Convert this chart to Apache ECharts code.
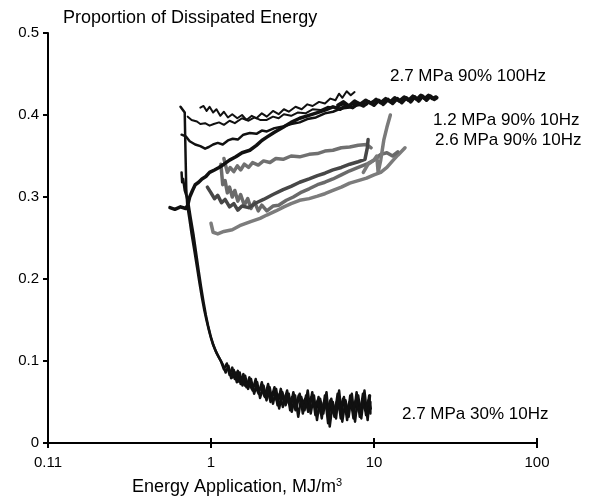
<!DOCTYPE html>
<html>
<head>
<meta charset="utf-8">
<script src="https://cdn.jsdelivr.net/npm/echarts@6/dist/echarts.min.js"></script>
<style>
  html, body { margin: 0; padding: 0; background: #fff; }
  #chart { width: 594px; height: 500px; }
</style>
</head>
<body>
<div id="chart"></div>
<script>
// axis ticks
const xTicks = [0.1, 1, 10, 100]
const xTickText = ['0.11', '1', '10', '100']

// 2.7 MPa 30% 10Hz - two traces dropping then noisy tail
const fall30a = [[0.65,0.41],[0.69,0.403],[0.695,0.37],[0.70,0.34],[0.705,0.31],[0.715,0.29],[0.735,0.275],[0.76,0.255],[0.79,0.235],[0.82,0.215],[0.85,0.195],[0.88,0.177],[0.91,0.162],[0.94,0.149],[0.97,0.138],[1.0,0.128],[1.04,0.118],[1.08,0.11],
  [1.15,0.100],[1.2,0.090],[1.25,0.097],[1.3,0.083],[1.35,0.092],[1.4,0.078],[1.46,0.088],[1.52,0.072],[1.58,0.084],[1.65,0.068],[1.72,0.080],[1.8,0.064],[1.88,0.078],[1.96,0.060],[2.05,0.074],[2.14,0.056],[2.24,0.072],[2.34,0.054],[2.45,0.068],[2.56,0.046],[2.68,0.066],[2.8,0.050],[2.93,0.064],[3.06,0.040],[3.2,0.062],[3.35,0.044],[3.5,0.060],[3.66,0.036],[3.83,0.058],[4.0,0.040],[4.18,0.062],[4.37,0.034],[4.57,0.056],[4.78,0.030],[5.0,0.058],[5.23,0.024],[5.47,0.054],[5.72,0.032],[5.98,0.060],[6.25,0.030],[6.54,0.056],[6.84,0.028],[7.15,0.058],[7.48,0.030],[7.82,0.062],[8.18,0.032],[8.55,0.060],[8.94,0.034],[9.35,0.058],[9.5,0.036],[9.5,0.05]]
const fall30b = [[0.66,0.33],[0.665,0.318],[0.675,0.322],[0.69,0.308],[0.71,0.30],[0.73,0.29],[0.75,0.275],[0.78,0.255],[0.81,0.232],[0.84,0.21],[0.87,0.19],[0.9,0.172],[0.93,0.156],[0.96,0.143],[0.99,0.132],[1.03,0.12],[1.07,0.112],[1.12,0.104],
  [1.18,0.096],[1.23,0.086],[1.28,0.094],[1.33,0.079],[1.38,0.089],[1.44,0.074],[1.5,0.086],[1.56,0.07],[1.62,0.082],[1.69,0.066],[1.76,0.078],[1.84,0.06],[1.92,0.074],[2.0,0.055],[2.1,0.07],[2.19,0.052],[2.29,0.068],[2.4,0.048],[2.51,0.066],[2.62,0.042],[2.74,0.062],[2.87,0.046],[3.0,0.06],[3.13,0.038],[3.28,0.058],[3.43,0.032],[3.58,0.056],[3.75,0.04],[3.92,0.064],[4.09,0.036],[4.28,0.058],[4.47,0.028],[4.67,0.054],[4.89,0.036],[5.11,0.062],[5.35,0.02],[5.59,0.05],[5.85,0.03],[6.11,0.064],[6.39,0.026],[6.69,0.052],[6.99,0.032],[7.31,0.06],[7.65,0.026],[8.0,0.058],[8.36,0.03],[8.74,0.064],[9.14,0.028],[9.45,0.058]]
const fall30c = [[1.3,0.088],[1.36,0.08],[1.42,0.086],[1.48,0.075],[1.55,0.08],[1.62,0.07],[1.7,0.075],[1.78,0.066],[1.86,0.072],[1.94,0.062],[2.03,0.068],[2.12,0.058],[2.22,0.066],[2.32,0.05],[2.42,0.062],[2.53,0.052],[2.64,0.06],[2.76,0.044],[2.88,0.058],[3.01,0.048],[3.14,0.056],[3.3,0.04],[3.45,0.058],[3.6,0.046],[3.78,0.054],[3.95,0.038],[4.13,0.056],[4.32,0.044],[4.52,0.052],[4.72,0.036],[4.94,0.05],[5.17,0.04],[5.4,0.052],[5.65,0.036],[5.9,0.05],[6.18,0.04],[6.46,0.054],[6.76,0.036],[7.07,0.05],[7.4,0.04],[7.73,0.052],[8.08,0.038],[8.45,0.05],[8.84,0.04],[9.25,0.052],[9.55,0.042]]

// 2.7 MPa 90% 100Hz - black traces
const hz100a = [[0.86,0.409],[0.9,0.411],[0.94,0.405],[0.98,0.41],[1.03,0.403],[1.08,0.407],[1.14,0.399],[1.2,0.404],[1.27,0.397],[1.35,0.401],[1.45,0.396],[1.55,0.4],[1.65,0.394],[1.78,0.399],[1.9,0.396],[2.05,0.402],[2.2,0.398],[2.4,0.405],[2.6,0.401],[2.8,0.407],[3.0,0.404],[3.3,0.41],[3.6,0.407],[3.9,0.413],[4.2,0.411],[4.6,0.416],[5.0,0.414],[5.4,0.42],[5.8,0.418],[6.1,0.426],[6.4,0.421],[6.8,0.429],[7.2,0.424],[7.6,0.428]]
const hz100b = [[0.72,0.398],[0.76,0.394],[0.82,0.392],[0.86,0.389],[0.92,0.39],[0.98,0.387],[1.04,0.389],[1.12,0.391],[1.2,0.388],[1.3,0.393],[1.4,0.39],[1.55,0.396],[1.7,0.393],[1.85,0.397],[2.0,0.394],[2.2,0.394],[2.4,0.398],[2.6,0.396],[2.8,0.401],[3.1,0.399],[3.4,0.403],[3.8,0.402],[4.2,0.407],[4.7,0.406],[5.2,0.41],[5.8,0.409],[6.5,0.413],[7.2,0.412],[8,0.415],[9,0.414],[10,0.417]]
const hz100c = [[0.66,0.376],[0.7,0.374],[0.74,0.368],[0.8,0.364],[0.86,0.362],[0.92,0.359],[0.97,0.361],[1.03,0.364],[1.1,0.366],[1.18,0.364],[1.27,0.369],[1.36,0.371],[1.46,0.37],[1.58,0.376],[1.73,0.378],[1.9,0.377],[2.05,0.381],[2.2,0.38],[2.45,0.384],[2.77,0.386],[3.1,0.389],[3.5,0.391],[3.9,0.395],[4.4,0.397],[5.0,0.402],[5.6,0.404],[6.3,0.408],[7.1,0.409],[8,0.412],[9,0.413]]
const hz100d = [[0.56,0.287],[0.6,0.285],[0.65,0.288],[0.7,0.286],[0.72,0.29],[0.74,0.3],[0.77,0.308],[0.8,0.315],[0.84,0.318],[0.88,0.322],[0.93,0.325],[0.98,0.33],[1.05,0.333],[1.12,0.336],[1.2,0.34],[1.3,0.345],[1.42,0.349],[1.55,0.354],[1.73,0.357],[1.9,0.363],[2.05,0.369],[2.2,0.373],[2.45,0.379],[2.77,0.385],[3.1,0.391],[3.5,0.396],[3.9,0.399],[4.5,0.403],[5,0.406],[5.6,0.41],[6.2,0.407],[6.8,0.412],[7.4,0.409],[8,0.414],[8.6,0.411],[9.3,0.416],[10,0.412],[10.7,0.418],[11.4,0.413],[12.2,0.419],[13,0.414],[13.9,0.42],[14.8,0.415],[15.8,0.421],[16.8,0.416],[17.8,0.422],[18.8,0.417],[19.9,0.423],[21,0.418],[22.2,0.423],[23.4,0.419],[24.3,0.421]]
const hz100e = [[6.0,0.412],[6.5,0.416],[7.0,0.411],[7.6,0.417],[8.2,0.413],[8.9,0.418],[9.6,0.414],[10.3,0.419],[11.0,0.415],[11.8,0.42],[12.6,0.416],[13.4,0.421],[14.3,0.417],[15.3,0.422],[16.3,0.418],[17.3,0.423],[18.3,0.419],[19.4,0.424],[20.5,0.42],[21.6,0.424],[22.8,0.42],[24.0,0.422]]

// 1.2 MPa / 2.6 MPa 90% 10Hz - grey traces
const hz10a = [[1.2,0.347],[1.26,0.33],[1.31,0.336],[1.38,0.331],[1.45,0.338],[1.52,0.333],[1.6,0.34],[1.7,0.336],[1.8,0.342],[1.95,0.339],[2.1,0.344],[2.3,0.342],[2.5,0.347],[2.77,0.346],[3.1,0.35],[3.5,0.349],[4.0,0.352],[4.5,0.353],[5.0,0.356],[5.6,0.357],[6.3,0.36],[7.1,0.361],[8,0.363],[9,0.364],[9.6,0.36]]
const hz10b = [[8.6,0.33],[9.2,0.34],[10,0.345],[10.4,0.35],[10.6,0.33],[11,0.345],[11.5,0.37],[12,0.385],[12.6,0.40]]
const hz10c = [[1.0,0.268],[1.03,0.257],[1.1,0.255],[1.2,0.258],[1.35,0.26],[1.5,0.265],[1.75,0.27],[2.0,0.274],[2.2,0.278],[2.5,0.283],[2.8,0.288],[3.1,0.292],[3.5,0.296],[4.0,0.298],[4.5,0.301],[5.0,0.304],[5.6,0.308],[6.3,0.312],[7.1,0.317],[8,0.32],[9,0.323],[10,0.327],[11,0.33],[12,0.336],[13,0.344],[14,0.351],[15.5,0.36]]
const hz10d = [[0.95,0.312],[1.0,0.305],[1.05,0.298],[1.1,0.302],[1.16,0.293],[1.22,0.297],[1.3,0.288],[1.38,0.292],[1.46,0.284],[1.55,0.289],[1.7,0.287],[1.9,0.293],[2.1,0.297],[2.4,0.303],[2.77,0.309],[3.1,0.313],[3.5,0.318],[4,0.322],[4.5,0.326],[5,0.329],[5.6,0.333],[6.3,0.336],[7.1,0.34],[8,0.343],[8.8,0.346],[9.1,0.36],[9.2,0.37]]
const hz10e = [[1.15,0.34],[1.18,0.315],[1.22,0.32],[1.26,0.305],[1.3,0.312],[1.35,0.3],[1.4,0.308],[1.46,0.295],[1.52,0.303],[1.6,0.29],[1.68,0.298],[1.76,0.286],[1.85,0.294],[1.95,0.283],[2.05,0.29],[2.2,0.283],[2.4,0.289],[2.6,0.29],[2.9,0.296],[3.2,0.3],[3.6,0.306],[4.0,0.31],[4.5,0.315],[5,0.318],[5.6,0.322],[6.3,0.327],[7.1,0.332],[8,0.336],[9,0.34],[10,0.345],[11,0.352],[12,0.354],[13,0.35],[14,0.355]]

const chart = echarts.init(document.getElementById('chart'))

function trace(data, color, width) {
  return {
    type: 'line',
    data: data,
    showSymbol: false,
    animation: false,
    lineStyle: { color: color, width: width, join: 'round', cap: 'round' }
  }
}

const font = 'Liberation Sans, Arial, sans-serif'
const txt = { fontFamily: font, fontSize: 17, fill: '#000' }

const option = {
  backgroundColor: '#fff',
  animation: false,
  title: {
    text: 'Proportion of Dissipated Energy',
    left: 58,
    top: 4,
    textStyle: { fontFamily: font, fontSize: 18, fontWeight: 'normal', color: '#000' }
  },
  grid: { left: 48, right: 57, top: 33, bottom: 57 },
  xAxis: [{
    type: 'log',
    logBase: 10,
    min: 0.1,
    max: 100,
    axisLine: { lineStyle: { color: '#000', width: 2 } },
    axisTick: { show: true, length: 5, lineStyle: { color: '#000', width: 2 } },
    splitLine: { show: false },
    axisLabel: {
      color: '#000', fontSize: 15, margin: 12,
      fontFamily: font,
      formatter: v => {
        const i = xTicks.findIndex(t => Math.abs(Math.log10(t) - Math.log10(v)) < 1e-6)
        return i >= 0 ? xTickText[i] : ''
      }
    }
  }, {
    type: 'log',
    logBase: 10,
    min: 0.1,
    max: 100,
    position: 'bottom',
    axisLine: { show: false },
    axisTick: { show: true, inside: true, length: 5, lineStyle: { color: '#000', width: 2 } },
    axisLabel: { show: false },
    splitLine: { show: false }
  }],
  yAxis: {
    type: 'value',
    min: 0,
    max: 0.5,
    interval: 0.1,
    axisLine: { show: true, lineStyle: { color: '#000', width: 2 } },
    axisTick: { show: true, length: 5, lineStyle: { color: '#000', width: 2 } },
    splitLine: { show: false },
    axisLabel: { color: '#000', fontSize: 15, margin: 9, fontFamily: font }
  },
  graphic: [
    { type: 'text', left: 390, top: 68, style: Object.assign({ text: '2.7 MPa 90% 100Hz' }, txt) },
    { type: 'text', left: 433, top: 112, style: Object.assign({ text: '1.2 MPa 90% 10Hz' }, txt) },
    { type: 'text', left: 435, top: 132, style: Object.assign({ text: '2.6 MPa 90% 10Hz' }, txt) },
    { type: 'text', left: 402, top: 406, style: Object.assign({ text: '2.7 MPa 30% 10Hz' }, txt) },
    {
      type: 'text', left: 132, top: 477,
      style: {
        text: 'Energy Application, MJ/m{sup|3}',
        font: '18px Liberation Sans, Arial, sans-serif',
        fill: '#000',
        rich: { sup: { fontSize: 11, verticalAlign: 'top', padding: [0, 0, 9, 0] } }
      }
    }
  ],
  series: [
    trace(hz10c, '#7c7c7c', 3.5),
    trace(hz10e, '#6a6a6a', 3.5),
    trace(hz10a, '#707070', 3.5),
    trace(hz10b, '#7a7a7a', 3.5),
    trace(hz10d, '#474747', 3.5),
    trace(hz100a, '#111', 2),
    trace(hz100b, '#111', 2),
    trace(hz100c, '#111', 2.5),
    trace(hz100d, '#111', 3.5),
    trace(hz100e, '#111', 3.5),
    trace(fall30a, '#111', 2.5),
    trace(fall30b, '#111', 2.5),
    trace(fall30c, '#111', 2.5)
  ]
}

chart.setOption(option)

window.addEventListener('resize', () => {
  chart.resize()
})
</script>
</body>
</html>
